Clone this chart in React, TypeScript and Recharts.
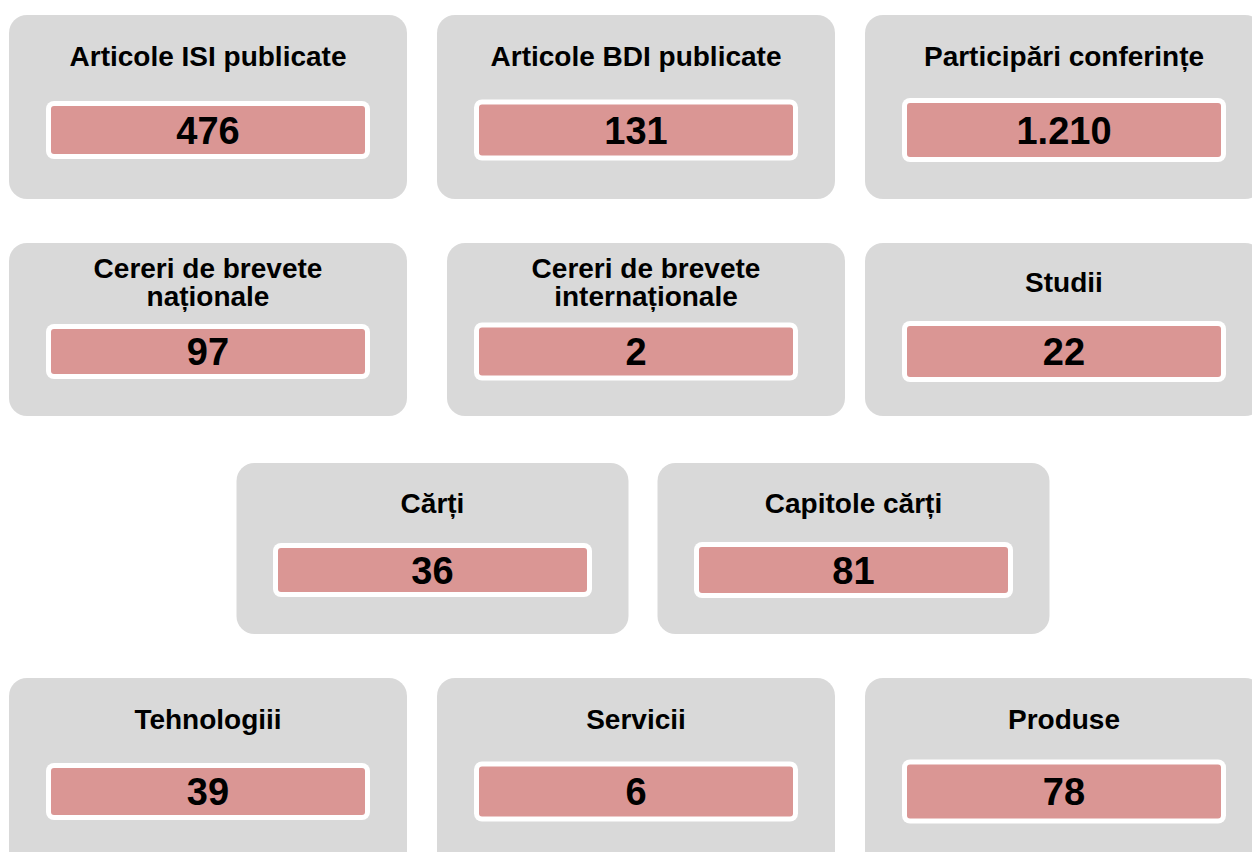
import React from 'react';
import { ScatterChart, Scatter, XAxis, YAxis, Text } from 'recharts';

// ---- data ----
const titles = [
  'Articole ISI publicate',
  'Articole BDI publicate',
  'Participări conferințe',
  'Cereri de brevete naționale',
  'Cereri de brevete internaționale',
  'Studii',
  'Cărți',
  'Capitole cărți',
  'Tehnologiii',
  'Servicii',
  'Produse',
];
const values = [476, 131, 1210, 97, 2, 22, 36, 81, 39, 6, 78];
const rowSizes = [3, 3, 2, 3];

// ---- layout / style ----
const FONT = '"Liberation Sans", Arial, Helvetica, sans-serif';
const CARD_FILL = '#D9D9D9';
const BOX_FILL = '#DA9694';
const CHART_W = 1300;

const ROWS = [
  { top: 15, height: 184, first: 208, step: 428, cardW: 398, titleY: 41.5, boxY: 115, boxW: 324, boxH: [58, 61, 64], cardShift: [0, 0, 0] },
  { top: 243, height: 173, first: 208, step: 428, cardW: 398, titleY: 39, boxY: 108.5, boxW: 324, boxH: [55, 58, 61], cardShift: [0, 10, 0] },
  { top: 463, height: 171, first: 432.5, step: 421, cardW: 392, titleY: 40, boxY: 107, boxW: 319, boxH: [54, 56], cardShift: [0, 0] },
  { top: 678, height: 194, first: 208, step: 428, cardW: 398, titleY: 41.5, boxY: 113.5, boxW: 324, boxH: [57, 60, 64], cardShift: [0, 0, 0] },
];

const fmt = (v: number) => String(v).replace(/\B(?=(\d{3})+(?!\d))/g, '.');

type Item = { title: string; value: number; row: number; col: number; slot: number; y: number };

const rowsData: Item[][] = (() => {
  const out: Item[][] = [];
  let k = 0;
  rowSizes.forEach((n, r) => {
    const arr: Item[] = [];
    for (let c = 0; c < n; c++) {
      arr.push({ title: titles[k], value: values[k], row: r, col: c, slot: c, y: 0.5 });
      k++;
    }
    out.push(arr);
  });
  return out;
})();

const CardShape = (props: any) => {
  const { cx, cy, payload } = props;
  const L = ROWS[payload.row];
  const top = cy - L.height / 2;
  const cardCx = cx + L.cardShift[payload.col];
  const bh = L.boxH[payload.col];
  const bcy = top + L.boxY;
  const titleStyle = { fontSize: '28px', fontWeight: 'bold', fontFamily: FONT };
  return (
    <g>
      <rect x={cardCx - L.cardW / 2} y={top} width={L.cardW} height={L.height} rx={18} ry={18} fill={CARD_FILL} />
      <Text
        x={cardCx}
        y={top + L.titleY}
        width={345}
        textAnchor="middle"
        verticalAnchor="middle"
        fontSize={28}
        fontWeight={700}
        fontFamily={FONT}
        fill="#000"
        style={titleStyle}
      >
        {payload.title}
      </Text>
      <rect x={cx - L.boxW / 2} y={bcy - bh / 2} width={L.boxW} height={bh} rx={8} ry={8} fill="#FFFFFF" />
      <rect x={cx - L.boxW / 2 + 5} y={bcy - bh / 2 + 5} width={L.boxW - 10} height={bh - 10} rx={3} ry={3} fill={BOX_FILL} />
      <text x={cx} y={bcy + 13.6} textAnchor="middle" fontSize={38} fontWeight={700} fontFamily={FONT} fill="#000">
        {fmt(payload.value)}
      </text>
    </g>
  );
};

export default function App() {
  return (
    <div style={{ position: 'fixed', left: 0, top: 0, width: 1252, height: 852, overflow: 'hidden', background: '#fff', fontFamily: FONT }}>
      {rowsData.map((data, r) => {
        const L = ROWS[r];
        const a = -L.first / L.step;
        const b = a + CHART_W / L.step;
        return (
          <div key={r} style={{ position: 'absolute', left: 0, top: L.top }}>
            <ScatterChart width={CHART_W} height={L.height} margin={{ top: 0, right: 0, bottom: 0, left: 0 }}>
              <XAxis type="number" dataKey="slot" domain={[a, b]} hide allowDataOverflow />
              <YAxis type="number" dataKey="y" domain={[0, 1]} hide allowDataOverflow />
              <Scatter data={data} shape={<CardShape />} isAnimationActive={false} />
            </ScatterChart>
          </div>
        );
      })}
    </div>
  );
}
